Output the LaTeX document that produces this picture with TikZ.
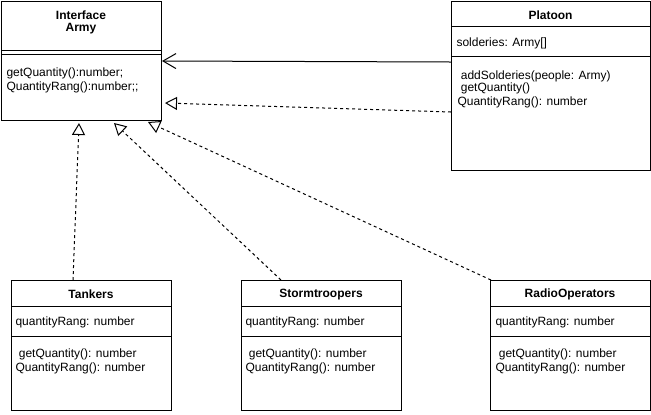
\documentclass[tikz,border=0pt]{standalone}
\usepackage{fontspec}
\setmainfont{Liberation Sans}
\usetikzlibrary{arrows.meta}
\begin{document}
\begin{tikzpicture}[x=1bp,y=-1bp,
  font=\fontsize{12bp}{14bp}\selectfont,
  every path/.style={line width=1bp},
  umlbox/.style={draw, rectangle, anchor=north west, inner sep=0pt, line width=1bp},
  txt/.style={anchor=west, inner sep=0pt, yshift=-1bp},
  ttl/.style={anchor=center, inner sep=0pt, yshift=-1bp, font=\fontsize{12bp}{14bp}\selectfont\bfseries},
  assoc/.style={-{Straight Barb[length=13bp,width=15bp]}},
  realize/.style={dash pattern=on 3bp off 3bp, -{Triangle[open,length=12bp,width=13bp]}}]
\useasboundingbox (0,0) rectangle (651,414);

% Interface Army
\node[umlbox, minimum width=160bp, minimum height=119bp] (iface) at (1,1) {};
\draw (1,50) -- (161,50);
\draw (1,54) -- (161,54);
\node[ttl] (ifaceT1) at (81,14.5) {Interface};
\node[ttl] (ifaceT2) at (81,28) {Army};
\node[txt] (ifaceM1) at (6,72) {getQuantity():number;};
\node[txt] (ifaceM2) at (6,86) {QuantityRang():number;;};

% Platoon
\node[umlbox, minimum width=199bp, minimum height=169bp] (plat) at (451,1) {};
\draw (451,26) -- (650,26);
\draw (451,56) -- (650,56);
\node[ttl] (platT) at (550.5,14) {Platoon};
\node[txt] (platA) at (456,42) {solderies: Army[]};
\node[txt] (platM1) at (457,75.5) {\ addSolderies(people: Army)};
\node[txt] (platM2) at (457,87) {\ getQuantity()};
\node[txt] (platM3) at (457,101) {QuantityRang(): number};

% Tankers
\node[umlbox, minimum width=160bp, minimum height=130bp] (tank) at (11,280) {};
\draw (11,306) -- (171,306);
\draw (11,336) -- (171,336);
\node[ttl] (tankT) at (91,293.5) {Tankers};
\node[txt] (tankA) at (15,321) {quantityRang: number};
\node[txt] (tankM1) at (15,353) {\ getQuantity(): number};
\node[txt] (tankM2) at (15,367.5) {QuantityRang(): number};

% Stormtroopers
\node[umlbox, minimum width=160bp, minimum height=130bp] (storm) at (241,280) {};
\draw (241,306) -- (401,306);
\draw (241,336) -- (401,336);
\node[ttl] (stormT) at (321,293.5) {Stormtroopers};
\node[txt] (stormA) at (245,321) {quantityRang: number};
\node[txt] (stormM1) at (245,353) {\ getQuantity(): number};
\node[txt] (stormM2) at (245,367.5) {QuantityRang(): number};

% RadioOperators
\node[umlbox, minimum width=160bp, minimum height=130bp] (radio) at (490,280) {};
\draw (490,306) -- (650,306);
\draw (490,336) -- (650,336);
\node[ttl] (radioT) at (570,293.5) {RadioOperators};
\node[txt] (radioA) at (495,321) {quantityRang: number};
\node[txt] (radioM1) at (495,353) {\ getQuantity(): number};
\node[txt] (radioM2) at (495,367.5) {QuantityRang(): number};

% connectors
\draw[assoc] ([yshift=-61bp]plat.north west) -- ([yshift=-60bp]iface.north east);
\draw[realize] ([yshift=-111bp]plat.north west) -- ([xshift=3bp,yshift=-102bp]iface.north east);
\draw[realize] ([xshift=62bp]tank.north west) -- ([xshift=78bp,yshift=-2bp]iface.south west);
\draw[realize] ([xshift=40bp]storm.north west) -- ([xshift=113bp,yshift=-2bp]iface.south west);
\draw[realize] ([xshift=1bp]radio.north west) -- ([xshift=147bp,yshift=-1bp]iface.south west);
\end{tikzpicture}
\end{document}
